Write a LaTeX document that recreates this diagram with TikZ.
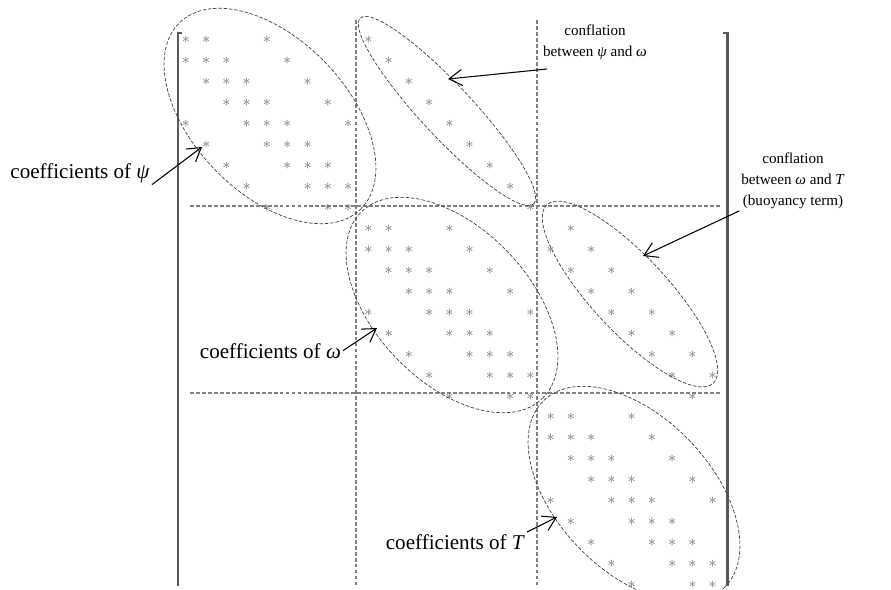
\documentclass[tikz,border=0pt]{standalone}
\usepackage{fontspec}
\setmainfont{Liberation Serif}
\usetikzlibrary{arrows.meta,shapes.geometric}

\begin{document}
\begin{tikzpicture}[x=0.02cm,y=-0.02cm,
    nz/.style={inner sep=0pt,text=black!55,font=\small},
    sep/.style={black!50,line width=0.6pt,dash pattern=on 2.2pt off 1.2pt},
    grp/.style={ellipse,draw=black!75,line width=0.4pt,dash pattern=on 2pt off 1pt,inner sep=0pt},
    lbl/.style={font=\fontsize{12}{14}\selectfont,inner sep=1pt},
    note/.style={font=\fontsize{8.6}{11.9}\selectfont,inner sep=1pt,align=center},
    arr/.style={-{Straight Barb[length=2.6mm,width=3.2mm]},line width=0.6pt},
    brk/.style={line width=1.2pt,black!65}]
  \useasboundingbox (0,0) rectangle (891,589);
  % matrix brackets
  \draw[brk] (182,33) -- (178,33) -- (178,586);
  \draw[brk] (723,33) -- (727.5,33) -- (727.5,586);
  % block separators
  \draw[sep] (356,20) -- (356,586);
  \draw[sep] (537,20) -- (537,586);
  \draw[sep] (190,206) -- (720,206);
  \draw[sep] (190,393) -- (720,393);
  % diagonal blocks psi, omega, T
  \foreach \b in {0,1,2} {
    \foreach \i in {0,...,8} {
      \foreach \j in {0,...,8} {
        \pgfmathtruncatemacro{\ok}{(abs(\i-\j)<2)||(abs(\i-\j)==4)}
        \ifnum\ok=1
          \pgfmathtruncatemacro{\r}{9*\b+\i}
          \pgfmathtruncatemacro{\c}{9*\b+\j}
          \node[nz] (a\r-\c) at (186+20.26*\c,40+20.96*\r) {$\ast$};
        \fi
      }
    }
  }
  % conflation psi--omega
  \foreach \i in {0,...,8} {
    \pgfmathtruncatemacro{\c}{9+\i}
    \node[nz] (a\i-\c) at (186+20.26*\c,40+20.96*\i) {$\ast$};
  }
  % conflation omega--T
  \foreach \i in {0,...,8} {
    \foreach \j in {0,...,8} {
      \pgfmathtruncatemacro{\ok}{abs(\i-\j)==1}
      \ifnum\ok=1
        \pgfmathtruncatemacro{\r}{9+\i}
        \pgfmathtruncatemacro{\c}{18+\j}
        \node[nz] (a\r-\c) at (186+20.26*\c,40+20.96*\r) {$\ast$};
      \fi
    }
  }
  % groups
  \node[grp,minimum width=5.2cm,minimum height=3.08cm,rotate=-46] (Epsi) at (270,116) {};
  \node[grp,minimum width=5.08cm,minimum height=1.04cm,rotate=-47] (Epw) at (447,111) {};
  \node[grp,minimum width=5.2cm,minimum height=3.08cm,rotate=-46] (Eomega) at (452,305) {};
  \node[grp,minimum width=4.88cm,minimum height=1.52cm,rotate=-47] (EwT) at (630,294) {};
  \node[grp,minimum width=5.2cm,minimum height=3.08cm,rotate=-46] (ET) at (634,494) {};
  \coordinate (tpsi) at (202,147);
  \coordinate (tpw) at (448,79);
  \coordinate (tomega) at (377,328);
  \coordinate (twT) at (643,256);
  \coordinate (tT) at (557,517);
  % labels
  \node[lbl,anchor=base east] (Lpsi) at (152,178) {coefficients of \textit{ψ}};
  \node[lbl,anchor=base east] (Lomega) at (343,358) {coefficients of \textit{ω}};
  \node[lbl,anchor=base east] (LT) at (527,549) {coefficients of \textit{T}};
  \node[note,anchor=north] (Lpw) at (595,23) {conflation\\between \textit{ψ} and \textit{ω}};
  \node[note,anchor=north] (LwT) at (793,151) {conflation\\between \textit{ω} and \textit{T}\\(buoyancy term)};
  \draw[arr] (Lpsi.south east) -- (tpsi);
  \draw[arr] (Lomega.east) -- (tomega);
  \draw[arr] (LT.north east) -- (tT);
  \draw[arr] ([shift={(6,7)}]Lpw.south west) -- (tpw);
  \draw[arr] (LwT.south west) -- (twT);
\end{tikzpicture}
\end{document}
